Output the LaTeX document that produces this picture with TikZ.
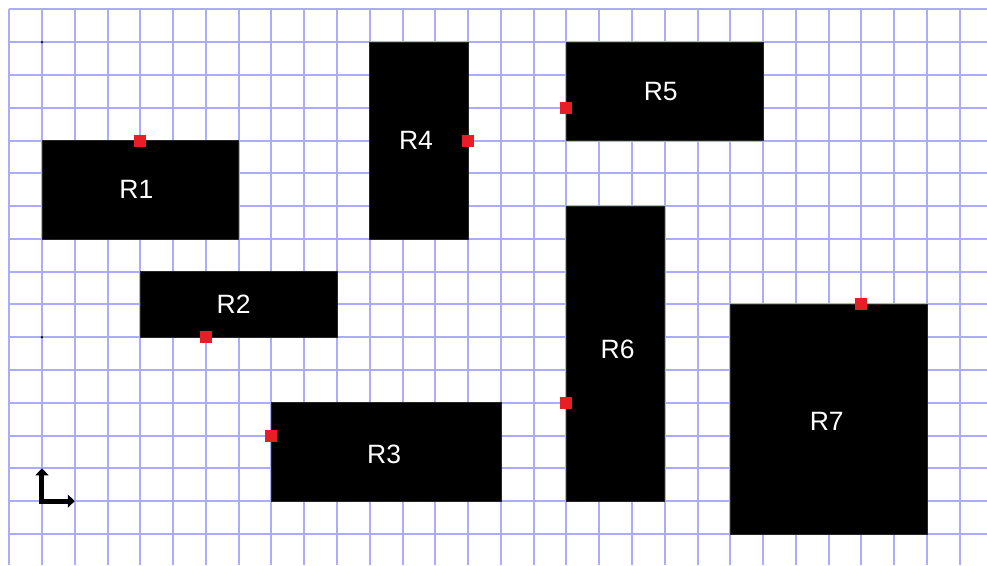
\documentclass[tikz,border=0pt]{standalone}
\usepackage{fontspec}
\setmainfont{Liberation Sans}
\usetikzlibrary{fit,arrows.meta}
\definecolor{gridblue}{RGB}{172,172,255}
\definecolor{dotred}{RGB}{232,30,38}
\tikzset{
  gridline/.style={draw=gridblue, line width=2pt},
  rbox/.style={fill=black, draw=black!85, line width=0.6pt, inner sep=0pt},
  rlabel/.style={text=white, inner sep=0pt, font=\fontsize{26.5}{30}\selectfont},
  reddot/.style={fill=dotred, draw=none, minimum size=12pt, inner sep=0pt, rectangle},
  tinydot/.style={fill=black, circle, minimum size=2.6pt, inner sep=0pt},
  axisarrow/.style={line width=5pt, {Triangle[length=7pt,width=13pt]}-{Triangle[length=7pt,width=13pt]}, line join=miter}
}
\begin{document}
\begin{tikzpicture}[x=32.78pt, y=-32.78pt]
\useasboundingbox (-0.281,-0.287) rectangle (29.83,16.95);
% grid
\foreach \k in {0,...,29} { \draw[gridline] (\k,0) -- (\k,16.95); }
\foreach \k in {0,...,16} { \draw[gridline] (0,\k) -- (29.83,\k); }
% rectangles
\node[rbox, fit={(1,4)(7,7)}] (R1) {};
\node[rbox, fit={(4,8)(10,10)}] (R2) {};
\node[rbox, fit={(8,12)(15,15)}] (R3) {};
\node[rbox, fit={(11,1)(14,7)}] (R4) {};
\node[rbox, fit={(17,1)(23,4)}] (R5) {};
\node[rbox, fit={(17,6)(20,15)}] (R6) {};
\node[rbox, fit={(22,9)(28,16)}] (R7) {};
\node[rlabel] (L1) at ([xshift=-4pt]R1.center) {R1};
\node[rlabel] (L2) at ([xshift=-5pt]R2.center) {R2};
\node[rlabel] (L3) at ([xshift=-2pt,yshift=-2pt]R3.center) {R3};
\node[rlabel] (L4) at ([xshift=-3pt]R4.center) {R4};
\node[rlabel] (L5) at ([xshift=-4pt]R5.center) {R5};
\node[rlabel] (L6) at ([xshift=2pt,yshift=4pt]R6.center) {R6};
\node[rlabel] (L7) at ([xshift=-2pt,yshift=-2pt]R7.center) {R7};
% red anchor dots
\node[reddot] (p1) at (4,4) {};
\node[reddot] (p2) at (6,10) {};
\node[reddot] (p3) at (8,13) {};
\node[reddot] (p4) at (14,4) {};
\node[reddot] (p5) at (17,3) {};
\node[reddot] (p6) at (17,12) {};
\node[reddot] (p7) at (26,9) {};
% tiny dots
\node[tinydot] (t1) at (1,1) {};
\node[tinydot] (t2) at (1,10) {};
% axis symbol
\coordinate (ay) at (1,14);
\coordinate (ao) at (1,15);
\coordinate (ax) at (2,15);
\draw[axisarrow] (ay) -- (ao) -- (ax);
\end{tikzpicture}
\end{document}
